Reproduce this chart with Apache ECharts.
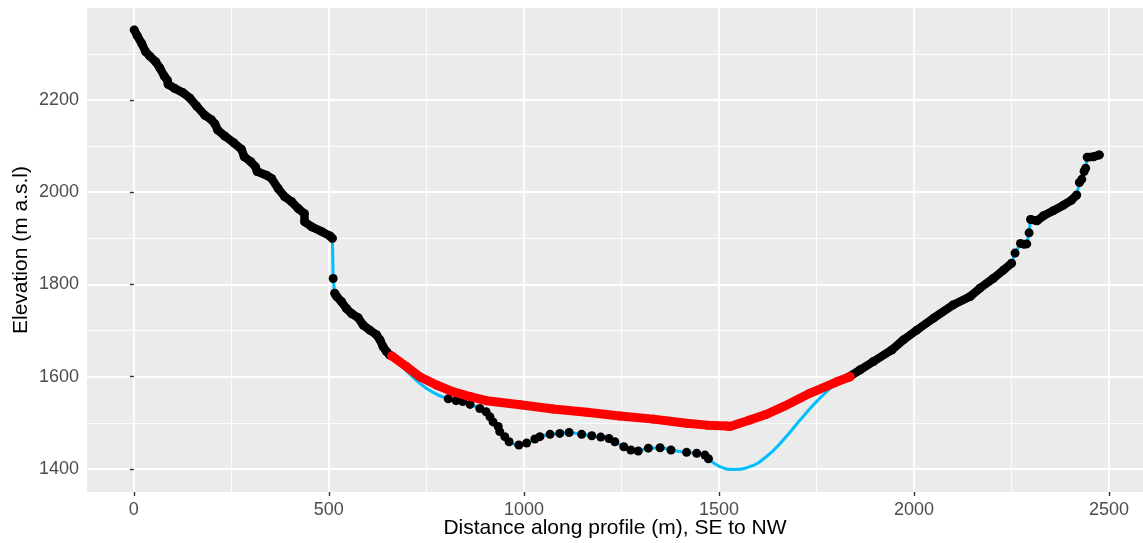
<!DOCTYPE html>
<html><head><meta charset="utf-8">
<script src="https://cdn.jsdelivr.net/npm/echarts@6/dist/echarts.min.js"></script>
<style>html,body{margin:0;padding:0;background:#fff}#c{width:1143px;height:543px}</style>
</head><body><div id="c"></div>
<script>
// Tick labels
const xTicks = [0, 500, 1000, 1500, 2000, 2500];
const xMinorTicks = [250, 750, 1250, 1750, 2250];
const yTicks = [1400, 1600, 1800, 2000, 2200];
const yMinorTicks = [1500, 1700, 1900, 2100, 2300];

// Measured surface (black points), SE side
const surfaceSE1 = [[1,2352],[9,2339],[20,2323],[30,2305],[41,2295],[56,2283],[67,2269],[78,2252],[86,2243],[88,2234],[105,2225],[126,2216],[144,2204],[161,2187],[182,2167],[199,2157],[208,2148],[215,2135],[233,2122],[255,2108],[276,2093],[283,2077],[300,2066],[312,2055],[316,2045],[340,2037],[353,2030],[370,2008],[387,1990],[404,1980],[421,1965],[437,1954],[438,1936],[456,1925],[481,1915],[503,1905],[509,1900]];
const surfaceSE2 = [[515,1781],[520,1774],[532,1763],[545,1748],[558,1737],[575,1728],[588,1712],[605,1701],[622,1691],[631,1680],[639,1665],[648,1654],[656,1647]];
// Measured surface, NW side
const surfaceNW1 = [[1832,1599],[1862,1615],[1896,1633],[1943,1658],[1973,1680],[2007,1701],[2050,1727],[2101,1756],[2144,1774],[2169,1792],[2203,1813],[2229,1831],[2250,1846]];
const surfaceNW2 = [[2299,1941],[2315,1938],[2332,1949],[2357,1960],[2383,1972],[2404,1983],[2417,1994]];
const surfaceNW3 = [[2444,2076],[2460,2077],[2475,2081]];
const stepPointsSE = [[511,1813]];
const stepPointsNW1 = [[2259,1868],[2273,1889],[2282,1887],[2289,1888],[2295,1912]];
const stepPointsNW2 = [[2424,2021],[2430,2028],[2436,2045],[2440,2052]];
// Bedrock points under the valley fill (black)
const bedrockPoints = [[806,1552],[826,1548],[843,1546],[862,1540],[887,1531],[903,1524],[913,1513],[921,1502],[934,1492],[938,1481],[951,1470],[962,1459],[987,1452],[1007,1456],[1028,1465],[1041,1470],[1067,1475],[1092,1477],[1116,1479],[1148,1475],[1174,1472],[1197,1469],[1218,1466],[1233,1459],[1256,1448],[1274,1441],[1293,1439],[1319,1445],[1349,1446],[1377,1441],[1417,1436],[1443,1434],[1464,1430],[1473,1422]];
// Modelled bedrock in the gaps (blue line only)
const gapSE = [[690,1620],[730,1588],[767,1566]];
const gapNW = [[1500,1406],[1537,1399],[1579,1405],[1622,1427],[1665,1463],[1708,1506],[1750,1546],[1802,1586]];
// Valley-fill surface (red)
const fillSurface = [[661,1645],[699,1622],[733,1600],[776,1582],[819,1567],[862,1557],[904,1548],[990,1539],[1075,1530],[1161,1523],[1246,1515],[1332,1508],[1417,1499],[1470,1495],[1520,1493],[1528,1492],[1579,1506],[1620,1518],[1665,1535],[1733,1564],[1802,1589],[1836,1600]];

const blueSE = [].concat(surfaceSE1, stepPointsSE, surfaceSE2);
const blueValley = [].concat(surfaceSE2.slice(-1), gapSE, bedrockPoints, gapNW, surfaceNW1.slice(0, 1));
const blueNW = [].concat(surfaceNW1, stepPointsNW1, surfaceNW2, stepPointsNW2, surfaceNW3);

const chart = echarts.init(document.getElementById('c'), null, {renderer: 'canvas'});
const font = "'Liberation Sans', Arial, Helvetica, sans-serif";
const XMIN = -120, XMAX = 2587, YMIN = 1350, YMAX = 2399.5;
const plain = v => String(v);

const blueStyle = {color: '#00BFFF', width: 3};
const segSeries = [surfaceSE1, surfaceSE2, surfaceNW1, surfaceNW2, surfaceNW3].map(seg => ({
  type: 'line', data: seg, symbol: 'circle', symbolSize: 9, showSymbol: true,
  itemStyle: {color: '#000', opacity: 1}, lineStyle: {color: '#000', width: 8.5, cap: 'round', join: 'round'},
  z: 4, silent: true
}));

chart.setOption({
  animation: false,
  textStyle: {fontFamily: font},
  grid: {left: 87, top: 8, right: 0, bottom: 51, show: true, backgroundColor: '#EBEBEB', borderWidth: 0,
         containLabel: false, outerBoundsMode: 'none'},
  xAxis: [{
    type: 'value', min: XMIN, max: XMAX,
    axisLine: {show: false},
    axisTick: {show: true, length: 4, lineStyle: {color: '#333', width: 1.4}, customValues: xTicks},
    axisLabel: {customValues: xTicks, formatter: plain, color: '#4D4D4D', fontSize: 18, margin: 9, fontFamily: font},
    splitLine: {show: true, lineStyle: {color: '#fff', width: 1.8}},
    name: 'Distance along profile (m), SE to NW', nameLocation: 'middle', nameGap: 26, nameMoveOverlap: false,
    nameTextStyle: {color: '#000', fontSize: 21, fontFamily: font}
  }, {
    type: 'value', min: XMIN, max: XMAX, position: 'bottom',
    axisLine: {show: false}, axisLabel: {show: false},
    axisTick: {show: false, customValues: xMinorTicks},
    splitLine: {show: true, lineStyle: {color: '#fff', width: 0.9}}
  }],
  yAxis: [{
    type: 'value', min: YMIN, max: YMAX,
    axisLine: {show: false},
    axisTick: {show: true, length: 4, lineStyle: {color: '#333', width: 1.4}, customValues: yTicks},
    axisLabel: {customValues: yTicks, formatter: plain, color: '#4D4D4D', fontSize: 18, margin: 8, fontFamily: font},
    splitLine: {show: true, lineStyle: {color: '#fff', width: 1.8}},
    name: 'Elevation (m a.s.l)', nameLocation: 'middle', nameGap: 55, nameMoveOverlap: false,
    nameTextStyle: {color: '#000', fontSize: 21, fontFamily: font}
  }, {
    type: 'value', min: YMIN, max: YMAX, position: 'left',
    axisLine: {show: false}, axisLabel: {show: false},
    axisTick: {show: false, customValues: yMinorTicks},
    splitLine: {show: true, lineStyle: {color: '#fff', width: 0.9}}
  }],
  series: [
    {type: 'line', data: blueSE, symbol: 'none', lineStyle: blueStyle, z: 2, silent: true},
    {type: 'line', data: blueValley, symbol: 'none', smooth: 0.5, lineStyle: blueStyle, z: 2, silent: true},
    {type: 'line', data: blueNW, symbol: 'none', lineStyle: blueStyle, z: 2, silent: true}
  ].concat(segSeries, [{
    type: 'scatter', data: bedrockPoints.concat(stepPointsSE, stepPointsNW1, stepPointsNW2), symbol: 'circle', symbolSize: 9,
    itemStyle: {color: '#000', opacity: 1}, z: 4, silent: true
  }, {
    type: 'line', data: fillSurface, symbol: 'circle', symbolSize: 9, showSymbol: true,
    itemStyle: {color: '#FF0000', opacity: 1}, lineStyle: {color: '#FF0000', width: 9, cap: 'round', join: 'round'},
    z: 5, silent: true
  }])
});
</script>
</body></html>
